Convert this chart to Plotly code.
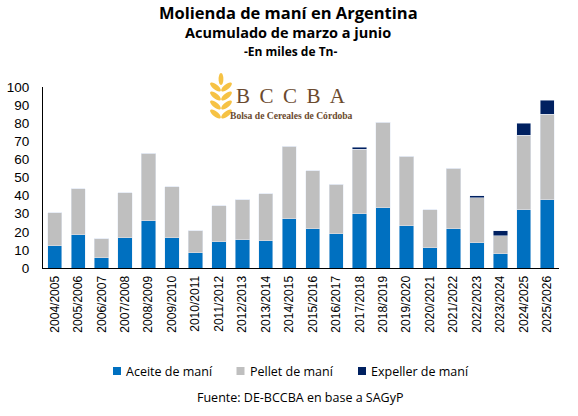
import math
import plotly.graph_objects as go

campanas = ["2004/2005", "2005/2006", "2006/2007", "2007/2008", "2008/2009", "2009/2010",
            "2010/2011", "2011/2012", "2012/2013", "2013/2014", "2014/2015", "2015/2016",
            "2016/2017", "2017/2018", "2018/2019", "2019/2020", "2020/2021", "2021/2022",
            "2022/2023", "2023/2024", "2024/2025", "2025/2026"]
aceite = [12.3, 18.3, 5.7, 16.7, 26.1, 16.7, 8.4, 14.5, 15.6, 15.0, 27.2, 21.7,
          18.9, 29.9, 33.2, 23.3, 11.2, 21.7, 13.9, 7.9, 32.1, 37.6]
pellet = [18.2, 25.4, 10.4, 24.8, 37.4, 28.1, 12.2, 19.8, 22.0, 25.9, 40.1, 31.9,
          27.5, 35.8, 47.4, 38.5, 20.9, 33.5, 24.8, 9.9, 41.3, 47.4]
expeller = [0, 0, 0, 0, 0, 0, 0, 0, 0, 0, 0, 0,
            0, 1.1, 0, 0, 0, 0, 1.1, 2.8, 6.6, 7.7]
series_names = ["Aceite de maní", "Pellet de maní", "Expeller de maní"]
series_colors = ["#0070C0", "#BFBFBF", "#002060"]
y_ticks = list(range(0, 101, 10))

W, H = 578, 416
L, R, T, B = 43, 19, 87, 148
pw, ph = W - L - R, H - T - B

def px(x):
    return (x - L) / pw

def py(y):
    return (H - B - y) / ph

fig = go.Figure()
for vals, name, col in zip([aceite, pellet, expeller], series_names, series_colors):
    fig.add_bar(x=campanas, y=vals, name=name, marker_color=col)

shapes = []
annotations = []

# wheat logo
def ellipse(cx, cy, a, b, ang, color="#F6C244"):
    pts = []
    for i in range(24):
        t = 2 * math.pi * i / 24
        ex, ey = a * math.cos(t), b * math.sin(t)
        rx = cx + ex * math.cos(ang) - ey * math.sin(ang)
        ry = cy + ex * math.sin(ang) + ey * math.cos(ang)
        pts.append(f"{px(rx):.5f},{py(ry):.5f}")
    return dict(type="path", xref="paper", yref="paper",
                path="M" + " L".join(pts) + " Z", fillcolor=color, line_width=0, layer="above")

shapes.append(ellipse(221, 79, 2.4, 6, 0.0))
for yy in [87, 96, 105, 114]:
    shapes.append(ellipse(215.5, yy, 2.6, 6.5, -0.9))
    shapes.append(ellipse(226.5, yy, 2.6, 6.5, 0.9))

def text(t, x, y, size, family="Open Sans", color="#000000", anchor="center", weight=None):
    f = dict(family=family, size=size, color=color)
    if weight:
        f["weight"] = weight
    annotations.append(dict(text=t, xref="paper", yref="paper", x=px(x), y=py(y),
                            showarrow=False, xanchor=anchor, yanchor="middle", font=f))

text("<b>Molienda de maní en Argentina</b>", 288, 12, 16.5)
text("<b>Acumulado de marzo a junio</b>", 288, 32, 14.5)
text("<b>-En miles de Tn-</b>", 291, 51, 12)
text("Fuente: DE-BCCBA en base a SAGyP", 300, 397, 12.5)
gap = " \u2009"
text(gap.join("BCCBA"), 291, 96, 21, family="Liberation Serif", color="#6B4A2E")
text("<b>Bolsa de Cereales de Córdoba</b>", 291, 115, 9.6, family="Liberation Serif", color="#6B4A2E")

# manual legend
leg_x = [113, 236.5, 358]
for lx, name, col in zip(leg_x, series_names, series_colors):
    shapes.append(dict(type="rect", xref="paper", yref="paper", x0=px(lx), x1=px(lx + 8),
                       y0=py(375), y1=py(367), fillcolor=col, line_width=0))
    text(name, lx + 11, 371.5, 12.5, anchor="left")

fig.update_layout(
    width=W, height=H, barmode="stack", bargap=0.39,
    margin=dict(l=L, r=R, t=T, b=B, pad=0),
    plot_bgcolor="white", paper_bgcolor="white",
    font=dict(family="Liberation Sans", size=12, color="#000000"),
    showlegend=False,
    shapes=shapes, annotations=annotations,
)
fig.update_xaxes(tickangle=-90, showline=True, linecolor="#000000", linewidth=1.2,
                 ticks="", tickfont=dict(size=12), automargin=False, ticklabelstandoff=2)
fig.update_yaxes(range=[0, 100], tickvals=y_ticks, showline=True, linecolor="#000000",
                 linewidth=1.2, showgrid=False, ticks="", tickfont=dict(size=13.5),
                 zeroline=False, automargin=False, ticklabelstandoff=10)
fig.write_html("out.html", post_script="document.body.style.margin='0px';",
               config={"displayModeBar": False})
